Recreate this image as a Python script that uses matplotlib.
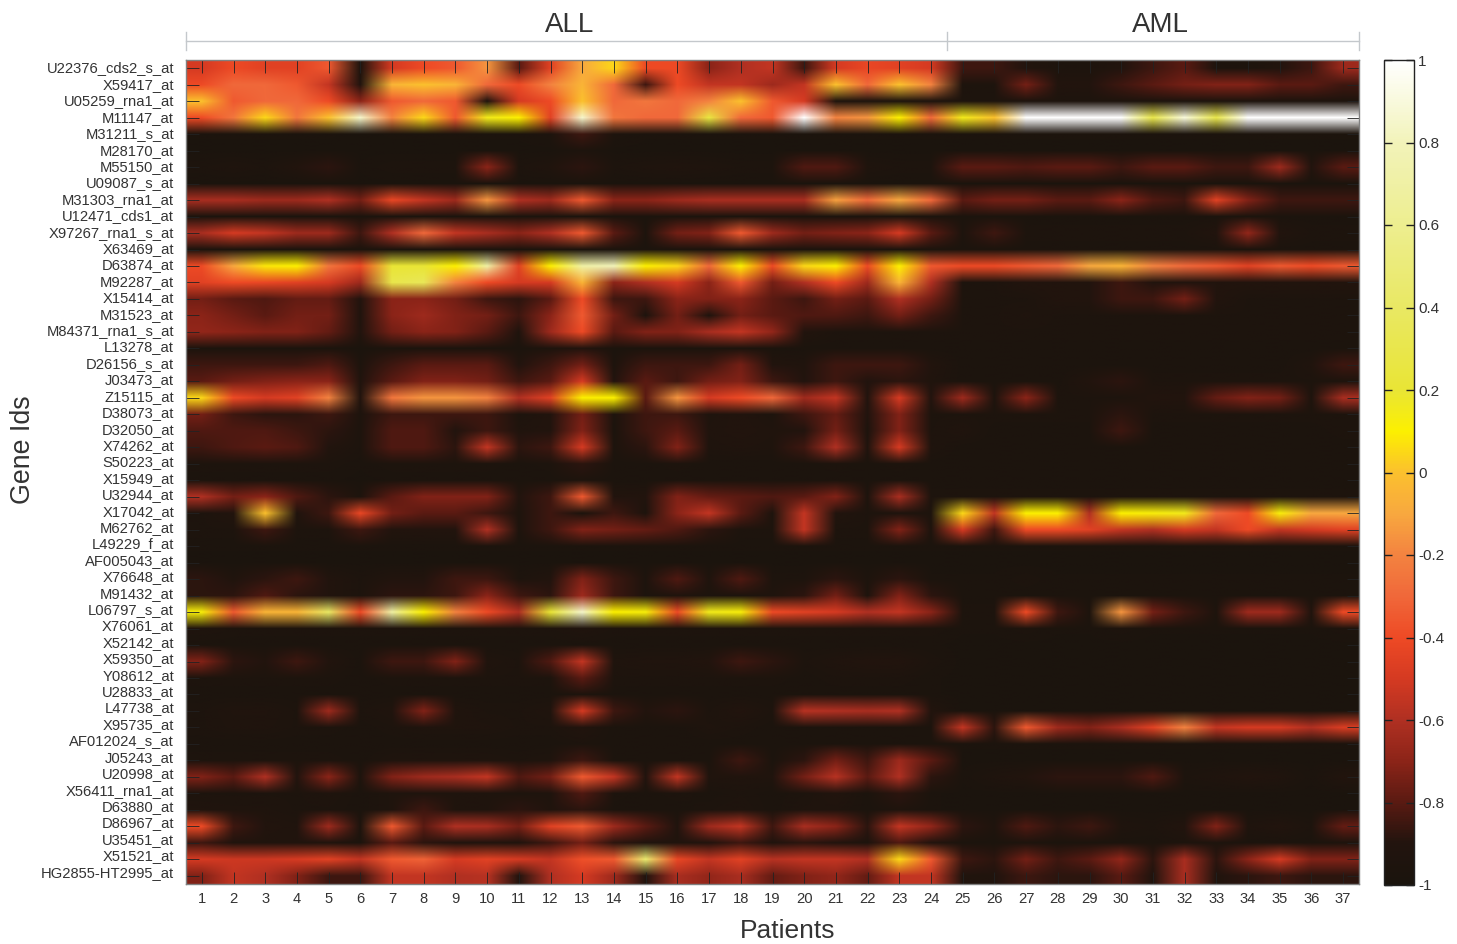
#!/usr/bin/env python3

import numpy as np
import matplotlib
matplotlib.use("Agg")
import matplotlib.pyplot as plt
from matplotlib.colors import LinearSegmentedColormap

plt.rcParams["font.family"] = ["Liberation Sans", "DejaVu Sans"]

# Data

gene_ids = ["U22376_cds2_s_at", "X59417_at", "U05259_rna1_at", "M11147_at", "M31211_s_at",
            "M28170_at", "M55150_at", "U09087_s_at", "M31303_rna1_at", "U12471_cds1_at",
            "X97267_rna1_s_at", "X63469_at", "D63874_at", "M92287_at", "X15414_at",
            "M31523_at", "M84371_rna1_s_at", "L13278_at", "D26156_s_at", "J03473_at",
            "Z15115_at", "D38073_at", "D32050_at", "X74262_at", "S50223_at",
            "X15949_at", "U32944_at", "X17042_at", "M62762_at", "L49229_f_at",
            "AF005043_at", "X76648_at", "M91432_at", "L06797_s_at", "X76061_at",
            "X52142_at", "X59350_at", "Y08612_at", "U28833_at", "L47738_at",
            "X95735_at", "AF012024_s_at", "J05243_at", "U20998_at", "X56411_rna1_at",
            "D63880_at", "D86967_at", "U35451_at", "X51521_at", "HG2855-HT2995_at"]

patients = list(range(1, 38))
colorbar_ticks = [-1, -0.8, -0.6, -0.4, -0.2, 0, 0.2, 0.4, 0.6, 0.8, 1]
colorbar_labels = ["-1", "-0.8", "-0.6", "-0.4", "-0.2", "0", "0.2", "0.4", "0.6", "0.8", "1"]

# Expression per gene (rows) and patient (columns)
expression = [
    [-.5,-.4,-.45,-.45,-.35,-.95,-.5,-.4,-.35,-.15,-.8,-.45,-.1,.05,-.4,-.4,-.7,-.6,-.55,-.85,-.5,-.42,-.45,-.5,-.85,-.85,-.9,-.95,-.95,-.9,-.85,-.8,-.95,-.95,-.9,-.85,-.65],
    [-.4,-.3,-.3,-.35,-.55,-.9,-.05,0,-.05,-.3,-.4,-.2,-.05,-.3,-.85,-.4,-.55,-.55,-.65,-.55,0,-.3,0,-.2,-.95,-.95,-.75,-.9,-.9,-.85,-.8,-.75,-.72,-.72,-.8,-.8,-.85],
    [0,-.35,-.3,-.3,-.4,-.7,-.35,-.3,-.35,-.95,-.5,-.4,0,-.3,-.25,-.3,-.2,0,-.35,-.5,-.95,-.95,-.95,-.95,-.95,-.95,-.95,-.95,-.95,-.95,-.95,-.95,-.95,-.95,-.95,-.95,-.95],
    [-.4,-.25,.05,-.25,0,.85,-.2,.05,-.35,.15,.1,-.45,.85,-.25,-.3,-.3,.25,-.3,-.35,1,-.2,-.15,.1,-.3,.15,0,1,1,1,1,.3,.9,.3,1,1,1,1],
    [-.97,-.97,-.97,-.97,-.97,-.98,-.97,-.97,-.97,-.97,-.97,-.95,-.85,-.95,-.97,-.97,-.97,-.97,-.97,-.97,-.97,-.97,-.97,-.97,-.97,-.97,-.97,-.97,-.97,-.97,-.97,-.97,-.97,-.97,-.97,-.97,-.97],
    [-.98,-.98,-.98,-.98,-.98,-.98,-.98,-.98,-.98,-.98,-.98,-.98,-.95,-.98,-.98,-.98,-.98,-.98,-.98,-.98,-.98,-.98,-.98,-.98,-.98,-.98,-.98,-.98,-.98,-.98,-.98,-.98,-.98,-.98,-.98,-.98,-.98],
    [-.95,-.93,-.95,-.9,-.88,-.97,-.95,-.95,-.95,-.7,-.95,-.92,-.88,-.95,-.93,-.92,-.93,-.95,-.95,-.82,-.82,-.93,-.95,-.95,-.8,-.8,-.82,-.8,-.8,-.85,-.8,-.8,-.85,-.85,-.65,-.9,-.8],
    [-.98,-.98,-.98,-.98,-.98,-.98,-.98,-.98,-.98,-.98,-.98,-.98,-.98,-.98,-.98,-.98,-.98,-.98,-.98,-.98,-.98,-.98,-.98,-.98,-.98,-.98,-.98,-.98,-.98,-.98,-.98,-.98,-.98,-.98,-.98,-.98,-.98],
    [-.62,-.62,-.65,-.65,-.6,-.75,-.42,-.55,-.65,-.15,-.6,-.65,-.35,-.7,-.7,-.65,-.62,-.62,-.62,-.62,-.12,-.3,-.1,-.3,-.8,-.75,-.75,-.8,-.8,-.7,-.82,-.85,-.45,-.72,-.85,-.85,-.85],
    [-.97,-.97,-.97,-.97,-.97,-.97,-.97,-.97,-.97,-.97,-.97,-.97,-.97,-.97,-.97,-.97,-.97,-.97,-.97,-.97,-.97,-.97,-.97,-.97,-.97,-.97,-.97,-.97,-.97,-.97,-.97,-.97,-.97,-.97,-.97,-.97,-.97],
    [-.62,-.5,-.55,-.65,-.65,-.85,-.6,-.3,-.55,-.62,-.7,-.6,-.35,-.8,-.95,-.75,-.72,-.35,-.65,-.75,-.72,-.7,-.5,-.8,-.95,-.85,-.95,-.95,-.95,-.95,-.95,-.95,-.9,-.68,-.9,-.95,-.95],
    [-.97,-.97,-.97,-.97,-.97,-.97,-.97,-.97,-.97,-.97,-.97,-.97,-.97,-.97,-.97,-.97,-.97,-.97,-.97,-.97,-.97,-.97,-.97,-.97,-.97,-.97,-.97,-.97,-.97,-.97,-.97,-.97,-.97,-.97,-.97,-.97,-.97],
    [-.4,-.1,.08,.1,-.25,-.4,.2,.2,.1,.7,-.45,.1,.7,.8,.1,.05,-.3,.1,-.4,.05,.1,-.4,.1,-.35,-.4,-.4,-.35,-.3,-.1,-.05,-.2,-.3,-.35,-.45,-.35,-.4,-.35],
    [-.45,-.4,-.42,-.45,-.5,-.65,.3,.35,-.2,-.4,-.5,-.5,-.05,-.7,-.6,-.5,-.7,-.35,-.75,-.6,-.4,-.65,-.05,-.6,-.95,-.95,-.9,-.9,-.9,-.85,-.9,-.9,-.9,-.9,-.9,-.9,-.9],
    [-.75,-.8,-.82,-.78,-.78,-.9,-.7,-.7,-.75,-.85,-.88,-.8,-.4,-.85,-.85,-.7,-.72,-.7,-.8,-.85,-.75,-.8,-.6,-.75,-.95,-.95,-.95,-.9,-.9,-.85,-.85,-.75,-.9,-.95,-.95,-.95,-.95],
    [-.7,-.75,-.8,-.75,-.75,-.92,-.7,-.65,-.72,-.75,-.85,-.7,-.35,-.75,-.95,-.75,-.93,-.75,-.8,-.82,-.82,-.85,-.75,-.85,-.95,-.95,-.93,-.95,-.95,-.95,-.95,-.95,-.95,-.95,-.95,-.95,-.95],
    [-.68,-.7,-.72,-.72,-.78,-.9,-.75,-.7,-.72,-.8,-.93,-.65,-.4,-.8,-.72,-.72,-.62,-.55,-.68,-.9,-.95,-.95,-.95,-.95,-.95,-.95,-.95,-.95,-.95,-.95,-.95,-.95,-.95,-.95,-.95,-.95,-.95],
    [-.97,-.97,-.97,-.97,-.97,-.98,-.97,-.97,-.97,-.97,-.97,-.95,-.9,-.97,-.97,-.97,-.97,-.97,-.97,-.97,-.97,-.97,-.97,-.97,-.97,-.97,-.97,-.97,-.97,-.97,-.97,-.97,-.97,-.97,-.97,-.97,-.97],
    [-.85,-.85,-.85,-.85,-.82,-.95,-.85,-.8,-.8,-.8,-.9,-.85,-.75,-.95,-.85,-.85,-.85,-.75,-.9,-.92,-.85,-.85,-.85,-.9,-.97,-.97,-.97,-.97,-.97,-.97,-.97,-.97,-.97,-.97,-.97,-.92,-.85],
    [-.8,-.75,-.72,-.7,-.7,-.92,-.8,-.72,-.72,-.75,-.85,-.8,-.5,-.9,-.8,-.85,-.75,-.72,-.85,-.9,-.85,-.9,-.88,-.92,-.97,-.97,-.97,-.97,-.9,-.88,-.95,-.95,-.95,-.95,-.95,-.95,-.95],
    [.05,-.4,-.5,-.45,-.2,-.9,-.25,-.15,-.15,-.2,-.6,-.45,.1,.1,-.8,-.15,-.5,-.4,-.3,-.65,-.55,-.9,-.5,-.9,-.65,-.95,-.7,-.95,-.95,-.95,-.9,-.9,-.78,-.72,-.75,-.95,-.62],
    [-.75,-.85,-.88,-.88,-.85,-.95,-.85,-.85,-.85,-.85,-.95,-.9,-.75,-.95,-.85,-.85,-.93,-.9,-.95,-.85,-.78,-.9,-.72,-.95,-.95,-.95,-.95,-.95,-.95,-.88,-.95,-.95,-.95,-.95,-.95,-.95,-.95],
    [-.82,-.82,-.82,-.85,-.88,-.95,-.82,-.82,-.9,-.85,-.92,-.9,-.72,-.97,-.85,-.8,-.92,-.9,-.92,-.9,-.75,-.95,-.72,-.95,-.92,-.97,-.97,-.97,-.97,-.85,-.97,-.97,-.97,-.97,-.97,-.97,-.95],
    [-.85,-.82,-.8,-.82,-.9,-.95,-.82,-.82,-.88,-.55,-.88,-.85,-.5,-.95,-.88,-.72,-.93,-.92,-.93,-.85,-.6,-.92,-.5,-.93,-.97,-.97,-.97,-.97,-.97,-.97,-.97,-.97,-.97,-.97,-.97,-.97,-.97],
    [-.95,-.95,-.95,-.95,-.95,-.97,-.95,-.95,-.95,-.95,-.97,-.95,-.88,-.97,-.97,-.95,-.97,-.97,-.97,-.97,-.95,-.97,-.95,-.97,-.97,-.97,-.97,-.97,-.97,-.97,-.97,-.97,-.97,-.97,-.97,-.97,-.97],
    [-.97,-.97,-.97,-.97,-.97,-.98,-.97,-.97,-.97,-.97,-.97,-.97,-.95,-.97,-.97,-.97,-.97,-.97,-.97,-.97,-.97,-.97,-.97,-.97,-.97,-.97,-.97,-.97,-.97,-.97,-.97,-.97,-.97,-.97,-.97,-.97,-.97],
    [-.6,-.75,-.7,-.82,-.88,-.95,-.8,-.72,-.72,-.72,-.9,-.85,-.35,-.9,-.9,-.72,-.78,-.8,-.82,-.8,-.72,-.95,-.62,-.95,-.95,-.95,-.95,-.95,-.95,-.95,-.95,-.95,-.95,-.95,-.95,-.95,-.95],
    [-.95,-.9,.0,-.92,-.85,-.42,-.75,-.8,-.8,-.85,-.95,-.85,-.98,-.85,-.95,-.7,-.55,-.8,-.95,-.55,-.9,-.95,-.95,-.95,.05,-.55,.1,.1,-.6,.1,.12,.15,-.3,-.4,.12,-.1,-.1],
    [-.95,-.95,-.85,-.95,-.95,-.85,-.9,-.9,-.9,-.6,-.95,-.85,-.72,-.75,-.78,-.82,-.88,-.95,-.95,-.55,-.95,-.95,-.72,-.95,-.5,-.85,-.4,-.4,-.45,-.55,-.6,-.5,-.55,-.4,-.55,-.5,-.45],
    [-.97,-.97,-.97,-.97,-.97,-.97,-.97,-.97,-.97,-.97,-.97,-.97,-.97,-.97,-.97,-.97,-.97,-.97,-.97,-.97,-.97,-.97,-.97,-.97,-.97,-.97,-.97,-.97,-.97,-.97,-.97,-.97,-.97,-.97,-.97,-.97,-.97],
    [-.98,-.98,-.98,-.98,-.98,-.98,-.98,-.98,-.98,-.98,-.98,-.98,-.98,-.98,-.98,-.98,-.98,-.98,-.98,-.98,-.98,-.98,-.98,-.98,-.98,-.98,-.98,-.98,-.98,-.98,-.98,-.98,-.98,-.98,-.98,-.98,-.98],
    [-.88,-.92,-.88,-.85,-.9,-.95,-.9,-.9,-.85,-.85,-.95,-.9,-.72,-.85,-.95,-.82,-.93,-.82,-.95,-.95,-.88,-.95,-.88,-.97,-.97,-.97,-.95,-.97,-.97,-.97,-.97,-.97,-.97,-.97,-.97,-.97,-.97],
    [-.88,-.88,-.82,-.88,-.9,-.95,-.88,-.88,-.85,-.7,-.85,-.88,-.65,-.85,-.95,-.92,-.95,-.95,-.93,-.88,-.75,-.95,-.72,-.88,-.97,-.97,-.97,-.97,-.97,-.97,-.97,-.97,-.97,-.97,-.97,-.97,-.97],
    [.12,-.35,-.05,-.05,.4,-.4,.7,.1,-.2,-.4,-.6,.2,.85,.1,.12,-.4,.15,.12,-.4,-.45,-.5,-.6,-.55,-.7,-.95,-.95,-.4,-.85,-.95,-.15,-.75,-.85,-.95,-.65,-.65,-.92,-.4],
    [-.93,-.95,-.95,-.95,-.95,-.95,-.95,-.95,-.95,-.95,-.95,-.95,-.92,-.95,-.95,-.95,-.95,-.95,-.95,-.95,-.95,-.95,-.95,-.95,-.97,-.97,-.95,-.97,-.97,-.95,-.97,-.97,-.97,-.97,-.97,-.97,-.95],
    [-.97,-.97,-.97,-.97,-.97,-.97,-.97,-.97,-.97,-.97,-.97,-.97,-.97,-.97,-.97,-.97,-.97,-.97,-.97,-.97,-.97,-.97,-.97,-.97,-.98,-.98,-.98,-.98,-.98,-.98,-.98,-.98,-.98,-.98,-.98,-.98,-.98],
    [-.72,-.88,-.9,-.85,-.9,-.97,-.85,-.85,-.72,-.92,-.95,-.82,-.55,-.93,-.92,-.92,-.9,-.85,-.88,-.95,-.92,-.9,-.9,-.95,-.98,-.98,-.98,-.98,-.98,-.98,-.98,-.98,-.98,-.98,-.98,-.98,-.98],
    [-.95,-.95,-.95,-.95,-.95,-.97,-.95,-.95,-.95,-.95,-.95,-.95,-.8,-.95,-.95,-.95,-.95,-.95,-.95,-.97,-.95,-.95,-.95,-.97,-.98,-.98,-.98,-.98,-.98,-.98,-.98,-.98,-.98,-.98,-.98,-.98,-.98],
    [-.97,-.97,-.97,-.97,-.97,-.97,-.97,-.97,-.97,-.97,-.97,-.97,-.95,-.97,-.97,-.97,-.97,-.97,-.97,-.97,-.97,-.97,-.97,-.97,-.98,-.98,-.98,-.98,-.98,-.98,-.98,-.98,-.98,-.98,-.98,-.98,-.98],
    [-.95,-.92,-.92,-.95,-.65,-.95,-.92,-.72,-.92,-.95,-.95,-.92,-.5,-.85,-.9,-.88,-.95,-.9,-.95,-.58,-.6,-.62,-.6,-.9,-.98,-.98,-.98,-.98,-.98,-.98,-.98,-.98,-.98,-.98,-.98,-.98,-.98],
    [-.95,-.93,-.93,-.95,-.95,-.97,-.95,-.93,-.93,-.93,-.95,-.95,-.9,-.97,-.97,-.97,-.93,-.95,-.97,-.97,-.97,-.97,-.97,-.97,-.55,-.88,-.35,-.65,-.72,-.62,-.45,-.2,-.55,-.5,-.5,-.6,-.48],
    [-.97,-.97,-.97,-.97,-.97,-.97,-.97,-.97,-.97,-.97,-.97,-.97,-.95,-.97,-.97,-.97,-.97,-.97,-.97,-.97,-.97,-.97,-.97,-.97,-.97,-.97,-.97,-.97,-.97,-.97,-.97,-.97,-.97,-.97,-.97,-.97,-.97],
    [-.95,-.95,-.95,-.95,-.95,-.97,-.93,-.93,-.93,-.93,-.95,-.93,-.85,-.97,-.97,-.97,-.97,-.85,-.97,-.88,-.75,-.85,-.65,-.8,-.98,-.98,-.98,-.98,-.98,-.98,-.98,-.98,-.98,-.98,-.98,-.98,-.98],
    [-.72,-.8,-.6,-.9,-.7,-.95,-.72,-.65,-.62,-.55,-.82,-.75,-.35,-.55,-.9,-.55,-.92,-.92,-.92,-.75,-.58,-.8,-.6,-.88,-.97,-.93,-.9,-.88,-.88,-.88,-.82,-.95,-.93,-.9,-.92,-.97,-.9],
    [-.95,-.95,-.95,-.95,-.93,-.97,-.93,-.93,-.93,-.93,-.95,-.93,-.82,-.95,-.97,-.95,-.97,-.95,-.97,-.95,-.9,-.97,-.88,-.97,-.98,-.98,-.98,-.98,-.98,-.98,-.98,-.98,-.98,-.98,-.98,-.98,-.98],
    [-.92,-.93,-.93,-.95,-.95,-.97,-.93,-.85,-.93,-.93,-.88,-.92,-.88,-.97,-.97,-.97,-.95,-.93,-.97,-.93,-.93,-.97,-.93,-.97,-.98,-.98,-.98,-.98,-.98,-.98,-.98,-.98,-.98,-.98,-.98,-.98,-.98],
    [-.4,-.85,-.9,-.92,-.65,-.95,-.35,-.8,-.6,-.62,-.75,-.45,-.35,-.65,-.8,-.92,-.65,-.55,-.85,-.62,-.7,-.88,-.55,-.68,-.88,-.93,-.82,-.88,-.85,-.93,-.95,-.9,-.72,-.93,-.9,-.95,-.78],
    [-.85,-.92,-.92,-.92,-.92,-.97,-.8,-.88,-.92,-.92,-.92,-.85,-.75,-.88,-.92,-.92,-.9,-.85,-.92,-.88,-.9,-.95,-.82,-.9,-.97,-.97,-.95,-.97,-.97,-.97,-.97,-.95,-.95,-.97,-.97,-.97,-.95],
    [-.5,-.52,-.52,-.5,-.45,-.55,-.35,-.32,-.5,-.45,-.5,-.55,-.38,-.35,.45,-.42,-.55,-.45,-.58,-.55,-.55,-.6,.05,-.35,-.85,-.88,-.75,-.85,-.8,-.68,-.88,-.62,-.88,-.7,-.5,-.72,-.72],
    [-.72,-.55,-.6,-.72,-.85,-.85,-.55,-.55,-.6,-.58,-.9,-.6,-.5,-.65,-.92,-.62,-.68,-.62,-.78,-.72,-.68,-.78,-.55,-.55,-.92,-.92,-.85,-.88,-.88,-.8,-.92,-.62,-.92,-.88,-.85,-.88,-.88],
]

# Colours of the colorbar, from -1 to 1
cmap_stops = [(-1.0, "#1a140d"), (-0.9, "#22140e"), (-0.8, "#5a1a12"), (-0.7, "#8c2418"),
              (-0.6, "#b03022"), (-0.5, "#d53a22"), (-0.4, "#ee4a25"), (-0.3, "#f0683a"),
              (-0.2, "#f38340"), (-0.1, "#f8a83f"), (0.0, "#fbc02e"), (0.1, "#fcf000"),
              (0.2, "#e9e535"), (0.4, "#e9e863"), (0.6, "#edee8f"), (0.8, "#f2f3b9"),
              (1.0, "#ffffff")]

W, H = 1457, 944
TEXT = "#333333"


def px_axes(fig, left, top, right, bottom):
    return fig.add_axes([left / W, 1 - bottom / H, (right - left) / W, (bottom - top) / H])


def main():
    cmap = LinearSegmentedColormap.from_list("heat", [((v + 1) / 2, c) for v, c in cmap_stops], N=512)
    values = np.array(expression)

    fig = plt.figure(figsize=(W / 100, H / 100), dpi=100)

    ax = px_axes(fig, 186, 60, 1359, 884)
    # the original blends colours between cells, hence the grey rim of the white band
    im = ax.imshow(values, cmap=cmap, vmin=-1, vmax=1, aspect="auto",
                   extent=(0.5, 37.5, 50.5, 0.5), interpolation="bilinear",
                   interpolation_stage="rgba")
    ax.set_xticks(patients)
    ax.set_xticklabels([str(p) for p in patients], fontsize=10.6, color=TEXT)
    ax.set_yticks(range(1, 51))
    ax.set_yticklabels([])
    ax.tick_params(axis="both", direction="in", length=9, width=0.6, color="#222222",
                   top=True, right=True)
    ax.tick_params(axis="x", pad=6)
    for s in ax.spines.values():
        s.set_color("#808080")
        s.set_linewidth(1)

    # overlay in pixel coordinates for the gene labels and the bracket
    over = px_axes(fig, 0, 0, W, H)
    over.set_xlim(0, W)
    over.set_ylim(H, 0)
    over.axis("off")
    over.patch.set_alpha(0)

    # the gene labels run a little tighter than the rows in the original
    for i, name in enumerate(gene_ids):
        over.text(174, 68.5 + i * 16.41, name, fontsize=10.6, color=TEXT, ha="right", va="center")

    over.text(788, 931, "Patients", fontsize=19, color=TEXT, ha="center", va="center")
    over.text(23, 450, "Gene Ids", fontsize=19.3, color=TEXT, ha="center", va="center", rotation=90)
    over.text(570, 25, "ALL", fontsize=20, color=TEXT, ha="center", va="center")
    over.text(1160, 25, "AML", fontsize=20, color=TEXT, ha="center", va="center")
    over.plot([186, 1359], [41, 41], color="#c4c8cc", lw=1)
    for x in [186, 947, 1359]:
        over.plot([x, x], [32, 50], color="#c4c8cc", lw=1)

    cax = px_axes(fig, 1384, 60, 1414, 885)
    cb = fig.colorbar(im, cax=cax, ticks=colorbar_ticks)
    cb.ax.set_yticklabels(colorbar_labels, fontsize=11, color=TEXT)
    cb.ax.tick_params(axis="y", direction="in", length=6, width=1, color="#222222",
                      left=True, right=True, pad=3)
    cb.outline.set_edgecolor("#222222")
    cb.outline.set_linewidth(1)

    fig.savefig("out.png", dpi=100)


if __name__ == "__main__":
    main()
